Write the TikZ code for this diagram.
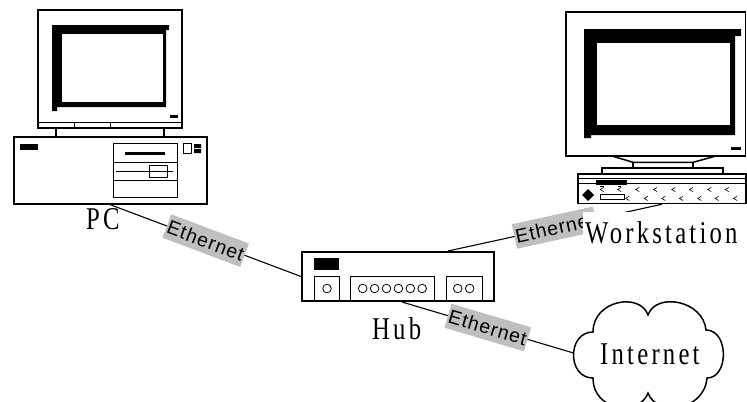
\documentclass[tikz,border=0pt]{standalone}
\usepackage{fontspec}
\setmainfont{Liberation Serif}
\newfontfamily\devfont{Liberation Serif}[LetterSpace=13]
\newfontfamily\ethfont{Liberation Sans}[LetterSpace=5]

% device names: narrow, tracked serif lettering
\newcommand\devname[1]{\scalebox{0.78}[1]{\devfont\fontsize{31.7bp}{34bp}\selectfont #1}}

\tikzset{
  outline/.style={line width=1.5bp},
  detail/.style={line width=0.8bp},
  wire/.style={line width=1.1bp},
  ether/.style={sloped, midway, fill=gray!50, inner sep=0pt,
    minimum width=83bp, minimum height=25bp,
    font=\ethfont\fontsize{19.5bp}{21bp}\selectfont},
  devlabel/.style={anchor=base west, inner xsep=2bp, inner ysep=2bp,
    text height=29bp, text depth=5bp},
  box/.style={draw, inner sep=0pt},
}

\begin{document}
\begin{tikzpicture}[x=1bp,y=-1bp]
\useasboundingbox (0,0) rectangle (747,401);

% ---------------- PC: monitor ----------------
\draw[outline] (38,10) rectangle (182,128);
\draw[detail] (38,122) -- (182,122) (74,122) -- (74,128) (110,122) -- (110,128);
\fill (52,25) -- (169,25) -- (169,30) -- (166,30) -- (166,107) -- (57,107)
      -- (57,111) -- (52,111) -- cycle;
\fill[white] (62,34) rectangle (163,102);
\fill (170,115) rectangle (178,118);
\draw[outline] (56,128) -- (56,137) (164,128) -- (164,137);

% ---------------- PC: case ----------------
\node[box, outline, minimum width=193bp, minimum height=67bp] (pc) at (110.5,170.5) {};
\fill (20,144) rectangle (38,150);
\draw[detail] (113,143) rectangle (177,197)
  (113,162) -- (177,162) (113,180) -- (177,180)
  (116,171) -- (173,171) (149,165) rectangle (167,177);
\fill (125,152) rectangle (165,154.5);
\draw[detail] (183,143) rectangle (191,153);
\fill (194,144) rectangle (201,148) (194,149) rectangle (201,153);

% ---------------- Workstation: monitor ----------------
\draw[outline] (566,12) rectangle (745.5,156);
\fill (584,29) -- (741,29) -- (741,36) -- (735,36) -- (735,135) -- (591,135)
      -- (591,138) -- (584,138) -- cycle;
\fill[white] (597,43) rectangle (730,125);
\fill (731,147) rectangle (741,150);
\draw[outline] (612,156) -- (633,162.3) -- (693,162.3) -- (716,156);
\draw[outline] (633,162.3) -- (633,168) (693,162.3) -- (693,168);
\draw[outline] (602,168) rectangle (723,173.3);

% ---------------- Workstation: system unit ----------------
\node[box, outline, minimum width=168bp, minimum height=29.5bp] (ws) at (662,188.75) {};
\draw[detail] (578,178.5) -- (746,178.5) (578,183) -- (746,183);
\fill (596,180) rectangle (627,184.5);
\fill (588,189) -- (594,195) -- (588,201) -- (582,195) -- cycle;
\draw[detail] (600,194.5) rectangle (624,199);
\foreach \x in {601.7,619.3,637.3,655,673.3,691,709.3,726.7}
  \draw[line width=0.6bp] (\x+2,187.4) -- (\x-1.5,189.5) -- (\x+2,191.6);
\foreach \x in {627.3,645.7,663.3,681,699.3,716.7,735}
  \draw[line width=0.6bp] (\x+2,196.3) -- (\x-1.5,198.4) -- (\x+2,200.5);
\draw[line width=0.6bp] (600,186) -- (603.5,186) (617.5,186) -- (621,186);

% ---------------- Hub ----------------
\node[box, line width=2bp, minimum width=192bp, minimum height=49bp] (hub) at (398,276.5) {};
\fill (314,258.3) rectangle (339,270);
\draw[detail] (314,276) rectangle (339,301) (350,276) rectangle (434.3,301)
  (446.7,276) rectangle (482.7,301);
\foreach \x in {327,362.7,374.6,386.5,398.4,410.3,422.2,457.7,469.7}
  \draw[detail] (\x,288.5) circle[radius=4.3];

% ---------------- Internet cloud ----------------
\draw[outline] (593,332) .. controls (593,300) and (640,292) .. (648,315)
  .. controls (656,292) and (703,300) .. (706,330)
  .. controls (729,330) and (729,378) .. (707,378)
  .. controls (704,412) and (656,416) .. (648,393)
  .. controls (640,416) and (593,412) .. (593,378)
  .. controls (567,378) and (567,332) .. (593,332) -- cycle;
\coordinate (cloudport) at (573.5,353);

% ---------------- links ----------------
\draw[wire] (pc.south) -- node[ether]{Ethernet} (hub.west);
\draw[wire] ([xshift=50bp]hub.north) -- node[ether]{Ethernet} (ws.south);
\draw[wire] ([xshift=4bp]hub.south) -- node[ether]{Ethernet} (cloudport);

% ---------------- names ----------------
\node[devlabel] (pclabel) at (84,229) {\devname{PC}};
\node[devlabel] (hublabel) at (370,339) {\devname{Hub}};
\node[devlabel, fill=white] (wslabel) at (583,243) {\devname{Workstation}};
\node[devlabel] (inetlabel) at (598,364) {\devname{Internet}};
\end{tikzpicture}
\end{document}
